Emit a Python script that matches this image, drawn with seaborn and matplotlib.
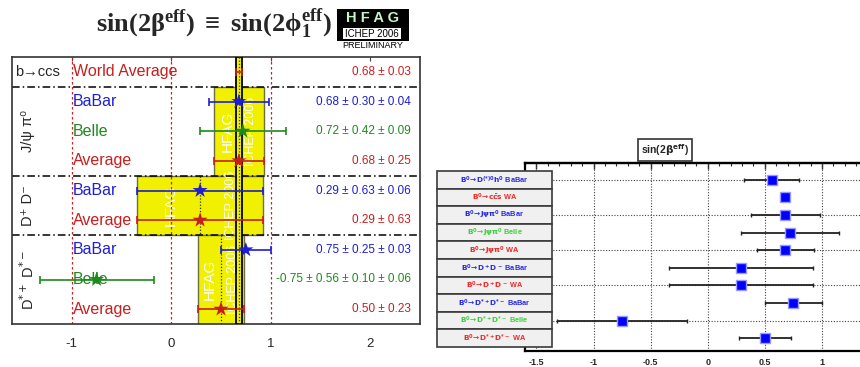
import numpy as np
import pandas as pd
import matplotlib
matplotlib.use('Agg')
import matplotlib.pyplot as plt
from matplotlib.patches import Rectangle
from matplotlib.ticker import MultipleLocator
import seaborn as sns

# left panel: sin(2beta_eff) from b->ccd modes
group_names = ['b→ccs', 'J/ψ π⁰', 'D⁺ D⁻', r'D$^{*+}$ D$^{*-}$']
group_sizes = [1, 3, 2, 3]
left_exps = ['World Average', 'BaBar', 'Belle', 'Average', 'BaBar', 'Average', 'BaBar', 'Belle', 'Average']
left_vals = [0.68, 0.68, 0.72, 0.68, 0.29, 0.29, 0.75, -0.75, 0.50]
left_stat = [0.03, 0.30, 0.42, 0.25, 0.63, 0.63, 0.25, 0.56, 0.23]
left_syst = [0.0, 0.04, 0.09, 0.0, 0.06, 0.0, 0.03, 0.10, 0.0]
left_syst2 = [0.0, 0.0, 0.0, 0.0, 0.0, 0.0, 0.0, 0.06, 0.0]
left_xticks = [-1, 0, 1, 2]

# right panel
right_labels = [r'$\mathbf{B^0\!\rightarrow\! D^{(*)0}h^0}$ BaBar',
                r'$\mathbf{B^0\!\rightarrow\! c\bar{c}s}$ WA',
                r'$\mathbf{B^0\!\rightarrow\! J\psi\pi^0}$ BaBar',
                r'$\mathbf{B^0\!\rightarrow\! J\psi\pi^0}$ Belle',
                r'$\mathbf{B^0\!\rightarrow\! J\psi\pi^0}$ WA',
                r'$\mathbf{B^0\!\rightarrow\! D^+D^-}$ BaBar',
                r'$\mathbf{B^0\!\rightarrow\! D^+D^-}$ WA',
                r'$\mathbf{B^0\!\rightarrow\! D^{*+}D^{*-}}$ BaBar',
                r'$\mathbf{B^0\!\rightarrow\! D^{*+}D^{*-}}$ Belle',
                r'$\mathbf{B^0\!\rightarrow\! D^{*+}D^{*-}}$ WA']
right_exps = ['BaBar', 'WA', 'BaBar', 'Belle', 'WA', 'BaBar', 'WA', 'BaBar', 'Belle', 'WA']
right_vals = [0.56, 0.68, 0.68, 0.72, 0.68, 0.29, 0.29, 0.75, -0.75, 0.50]
right_errs = [0.24, 0.03, 0.30, 0.43, 0.25, 0.63, 0.63, 0.25, 0.57, 0.23]
right_xticks = [-1.5, -1, -0.5, 0, 0.5, 1]

sns.set_style('white')
plt.rcParams['font.family'] = ['Liberation Sans', 'DejaVu Sans']
plt.rcParams['mathtext.rm'] = 'Liberation Serif:bold'
plt.rcParams['mathtext.it'] = 'Liberation Serif:bold'
plt.rcParams['mathtext.bf'] = 'Liberation Serif:bold'

W, H = 860, 367
def P(x, y):
    return x / W, 1 - y / H

fig = plt.figure(figsize=(8.6, 3.67), dpi=100)

left_col = {'BaBar': '#1e1ed2', 'Belle': '#1e8a1e', 'Average': '#c81e1e', 'World Average': '#c81e1e'}
band_yellow = '#f0f000'

# ---------------- left panel ----------------
axL = fig.add_axes([12 / W, 1 - 324 / H, 408 / W, 267 / H])
rows = np.arange(len(left_vals))
tot = np.sqrt(np.array(left_stat) ** 2 + np.array(left_syst) ** 2 + np.array(left_syst2) ** 2)
edges = np.concatenate([[0], np.cumsum(group_sizes)]) - 0.5

axL.set_xlim(-1.6, 2.5)
axL.set_ylim(edges[-1], edges[0])

# average bands
hfag_pos = [(0.57, 0.80), (0.0, 0.60), (0.39, 0.62)]
for g in range(1, len(group_sizes)):
    lo, hi = edges[g], edges[g + 1]
    idx = [i for i in range(int(lo + 0.5), int(hi + 0.5)) if left_exps[i] == 'Average'][0]
    v, e = left_vals[idx], tot[idx]
    rect = Rectangle((v - e, lo), 2 * e, hi - lo, fc=band_yellow, ec='#6e6e40', lw=1.0, zorder=1)
    axL.add_patch(rect)
    xa, xb = hfag_pos[g - 1]
    t1 = axL.text(xa, (lo + hi) / 2, 'HFAG', rotation=90, color='white', fontsize=11,
                  ha='center', va='center', zorder=2)
    t1.set_clip_path(rect)
    t2 = axL.text(xb, (lo + hi) / 2, 'ICHEP 2006', rotation=90, color='white', fontsize=9,
                  ha='center', va='center', zorder=2)
    t2.set_clip_path(rect)
    axL.plot([v, v], [lo, hi], color='#333', ls=(0, (1, 1.5)), lw=0.9, zorder=2)

# world average strip
wa_v, wa_e = left_vals[0], tot[0]
axL.add_patch(Rectangle((wa_v - wa_e, edges[0]), 2 * wa_e, edges[-1] - edges[0],
                        fc=band_yellow, ec='black', lw=1.3, zorder=3))
axL.plot([wa_v, wa_v], [edges[0], edges[-1]], color='#333', ls=(0, (1, 1.5)), lw=0.9, zorder=3)

for x in [-1, 0, 1]:
    axL.axvline(x, color='#d02020', ls=(0, (2, 2)), lw=0.9, zorder=2.5)
for y in edges[1:-1]:
    axL.axhline(y, color='black', ls=(0, (5, 2, 1, 2)), lw=1.1, zorder=2.5)

for i in rows:
    c = left_col[left_exps[i]]
    axL.errorbar(left_vals[i], i, xerr=tot[i], fmt='none', ecolor=c, elinewidth=1.2,
                 capsize=3, capthick=1.2, zorder=4)

df_left = pd.DataFrame({'val': left_vals, 'row': rows, 'exp': left_exps})
sns.scatterplot(data=df_left[df_left['exp'] != 'World Average'], x='val', y='row', hue='exp',
                palette=left_col, marker='*', s=130, linewidth=0, legend=False, ax=axL, zorder=6)

for i in rows:
    c = left_col[left_exps[i]]
    axL.text(-0.985, i, left_exps[i], color=c, fontsize=11.5, ha='left', va='center', zorder=7)
    parts = [left_stat[i], left_syst[i], left_syst2[i]]
    s = '%.2f' % left_vals[i] + ''.join(' ± %.2f' % p for p in parts if p > 0)
    axL.text(2.405, i, s, color=c, fontsize=8.5, ha='right', va='center', zorder=7)

for g, name in enumerate(group_names):
    yc = (edges[g] + edges[g + 1]) / 2
    if group_sizes[g] == 1:
        axL.text(-1.57, yc, name, fontsize=10.5, ha='left', va='center')
    else:
        axL.text(-1.44, yc, name, fontsize=10.5, rotation=90, ha='center', va='center',
                 math_fontfamily='dejavusans')

axL.set_xticks(left_xticks)
axL.set_xticklabels([str(t) for t in left_xticks], fontsize=9.5)
axL.set_yticks([])
axL.tick_params(axis='x', direction='in', length=3, top=True, pad=10, color='#444')
axL.set_xlabel('')
axL.set_ylabel('')
for sp in axL.spines.values():
    sp.set_color('#333')
    sp.set_linewidth(1.2)

# title and logo
fig.text(*P(214, 24), r'$\mathrm{sin(2\beta^{eff})\;\equiv\;sin(2\phi_1^{eff})}$',
         math_fontfamily='custom', fontsize=19, ha='center', va='center')
fig.add_artist(Rectangle(P(337, 41), 72 / W, 32 / H, transform=fig.transFigure,
                         fc='black', ec='black', lw=0))
fig.add_artist(Rectangle(P(343, 39), 58 / W, 11 / H, transform=fig.transFigure,
                         fc='white', ec='black', lw=0))
fig.text(*P(373, 18), 'H F A G', color='#c8f5c8', fontsize=10.5, fontweight='bold',
         ha='center', va='center')
fig.text(*P(372, 34), 'ICHEP 2006', color='black', fontsize=7, ha='center', va='center')
fig.text(*P(373, 46), 'PRELIMINARY', color='black', fontsize=6.5, ha='center', va='center')

# ---------------- right panel ----------------
axR = fig.add_axes([525 / W, 1 - 351 / H, 345 / W, 188 / H])
rrows = np.arange(len(right_vals))
axR.set_xlim(-1.6, 1.42)
axR.set_ylim(9.73, -0.95)

axR.errorbar(right_vals, rrows, xerr=right_errs, fmt='none', ecolor='#222', elinewidth=1.3,
             capsize=1.5, capthick=1, zorder=4)
df_right = pd.DataFrame({'val': right_vals, 'row': rrows})
sns.scatterplot(data=df_right, x='val', y='row', marker='s', color='#0000ff', edgecolor='#9999ff',
                linewidth=1, s=60, legend=False, ax=axR, zorder=5)

axR.set_xticks(right_xticks)
axR.set_xticklabels(['%g' % t for t in right_xticks], fontsize=6.5, fontweight='bold')
axR.xaxis.set_minor_locator(MultipleLocator(0.1))
axR.set_yticks([0, 2, 4, 6, 8])
axR.set_yticklabels([])
axR.tick_params(axis='y', length=0)
axR.tick_params(axis='x', which='major', direction='out', length=4, width=1, pad=1, color='black')
axR.tick_params(axis='x', which='minor', direction='out', length=2.5, width=0.8, color='black')
top = axR.secondary_xaxis('top')
top.set_xticks(right_xticks)
top.set_xticklabels([])
top.xaxis.set_minor_locator(MultipleLocator(0.1))
top.tick_params(axis='x', which='major', direction='in', length=4, width=1)
top.tick_params(axis='x', which='minor', direction='in', length=2.5, width=0.8)
top.spines['top'].set_linewidth(1.6)
axR.grid(True, color='#444', ls=(0, (1, 1.5)), lw=0.8)
axR.set_xlabel('')
axR.set_ylabel('')
for sp in axR.spines.values():
    sp.set_color('black')
    sp.set_linewidth(1.6)

right_col = {'BaBar': '#2a2ae6', 'Belle': '#3ad23a', 'WA': '#f02828'}
for i, lab in enumerate(right_labels):
    y0 = 171 + i * 17.6
    fig.add_artist(Rectangle(P(437, y0 + 17.6), 115 / W, 17.6 / H, transform=fig.transFigure,
                             fc='#f0f0f0', ec='#3a3a3a', lw=1.2, zorder=5))
    fig.text(*P(494.5, y0 + 9), lab, color=right_col[right_exps[i]], fontsize=5.3,
             fontweight='bold', ha='center', va='center', zorder=6)

fig.text(*P(665, 150), r'sin(2$\mathbf{\beta^{eff}}$)', fontsize=7.5, fontweight='bold',
         ha='center', va='center',
         bbox=dict(boxstyle='square,pad=0.25', fc='white', ec='#333', lw=1.2))

fig.savefig('out.png', dpi=100)
